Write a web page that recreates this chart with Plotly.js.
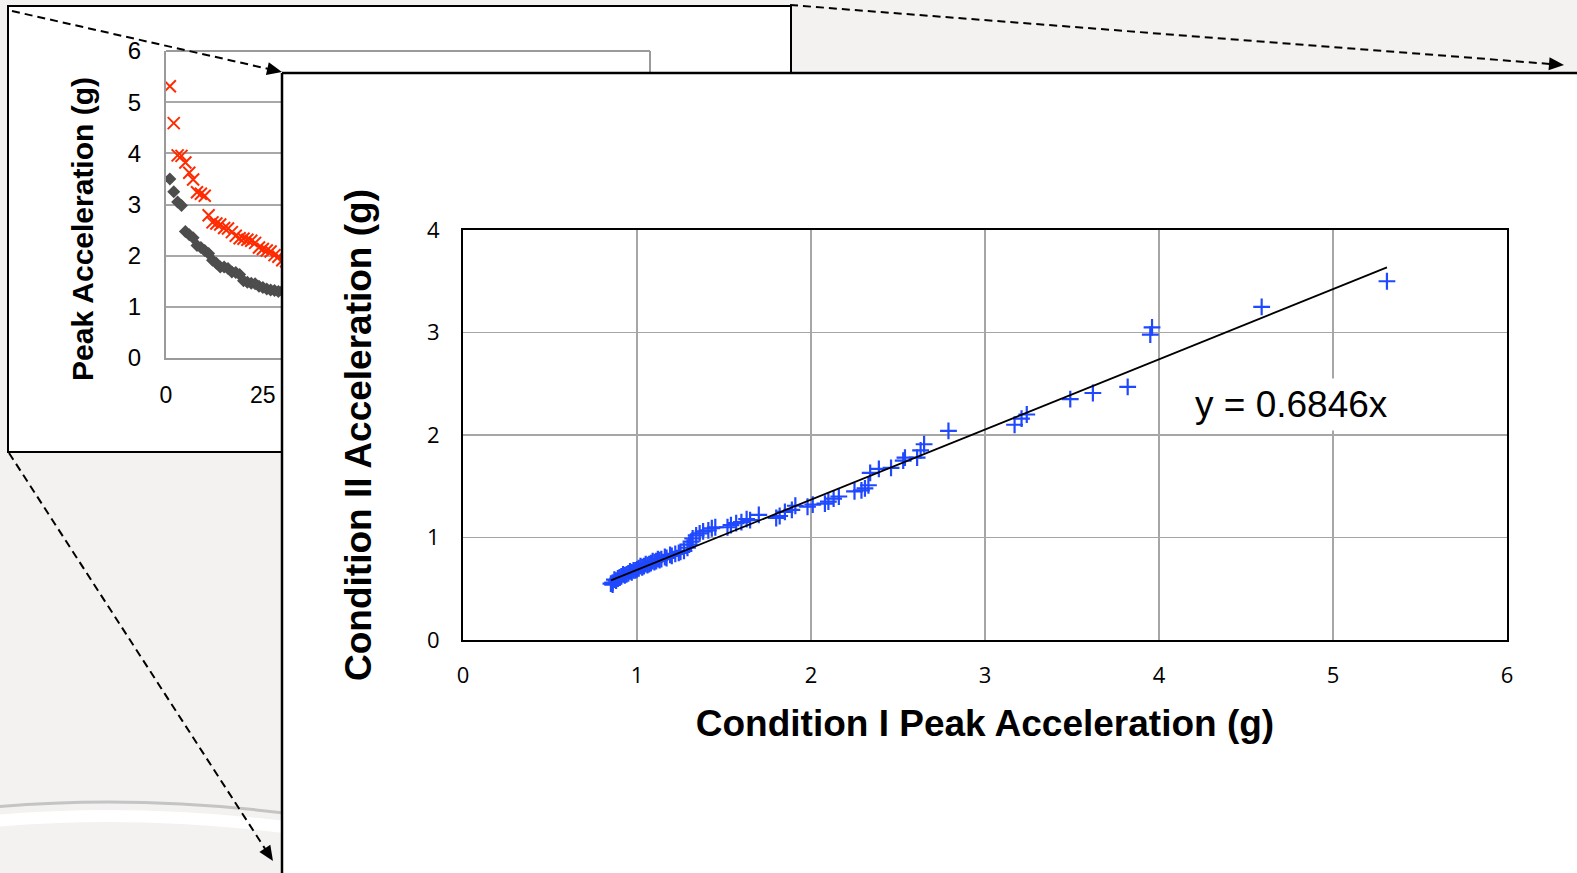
<!DOCTYPE html>
<html>
<head>
<meta charset="utf-8">
<script src="https://cdn.plot.ly/plotly-3.0.1.min.js"></script>
<style>
  html, body { margin: 0; padding: 0; background: #f3f2f0; }
  #chart { width: 1577px; height: 873px; }
</style>
</head>
<body>
<div id="chart"></div>
<script>
// Paired peak accelerations (g) per impact, ranked by Condition I (highest first)
const condI = [
  5.31, 4.59, 3.96, 3.95, 3.82, 3.62, 3.49, 3.24, 3.21, 3.17,
  2.79, 2.65, 2.63, 2.61, 2.54, 2.53, 2.46, 2.39, 2.34, 2.33,
  2.31, 2.29, 2.25, 2.16, 2.13, 2.10, 2.08, 2.01, 1.98, 1.91,
  1.89, 1.85, 1.82, 1.80, 1.70, 1.65, 1.63, 1.60, 1.57, 1.54,
  1.52, 1.45, 1.43, 1.41, 1.38, 1.36, 1.34, 1.32, 1.31, 1.30,
  1.29, 1.27, 1.25, 1.24, 1.22, 1.20, 1.19, 1.17, 1.16, 1.14,
  1.13, 1.12, 1.11, 1.10, 1.09, 1.08, 1.07, 1.06, 1.05, 1.04,
  1.03, 1.02, 1.01, 1.00, 0.99, 0.98, 0.97, 0.96, 0.95, 0.94,
  0.93, 0.92, 0.91, 0.90, 0.89, 0.88, 0.87, 0.86, 0.86, 0.85
];
const condII = [
  3.50, 3.25, 3.05, 2.98, 2.47, 2.41, 2.35, 2.20, 2.16, 2.10,
  2.04, 1.91, 1.85, 1.78, 1.78, 1.75, 1.68, 1.67, 1.63, 1.51,
  1.48, 1.46, 1.45, 1.40, 1.38, 1.35, 1.33, 1.32, 1.30, 1.31,
  1.27, 1.25, 1.21, 1.19, 1.22, 1.17, 1.18, 1.15, 1.14, 1.12,
  1.10, 1.10, 1.09, 1.07, 1.06, 1.04, 1.02, 0.99, 0.96, 0.93,
  0.90, 0.87, 0.86, 0.85, 0.84, 0.82, 0.83, 0.80, 0.81, 0.79,
  0.78, 0.79, 0.77, 0.76, 0.77, 0.75, 0.74, 0.73, 0.74, 0.72,
  0.71, 0.72, 0.70, 0.69, 0.68, 0.68, 0.66, 0.67, 0.65, 0.64,
  0.63, 0.64, 0.62, 0.61, 0.60, 0.58, 0.59, 0.56, 0.54, 0.55
];
// Least-squares fit through the origin: Condition II = slope * Condition I
const slope = 0.6846;
const fitLabel = 'y = 0.6846x';

const insetTickVals = [0, 25, 50, 75, 100, 125];
const insetYTicks = [0, 1, 2, 3, 4, 5, 6];
const mainXTicks = [0, 1, 2, 3, 4, 5, 6];
const mainYTicks = [0, 1, 2, 3, 4];

const insetYTitle = 'Peak Acceleration (g)';
const mainXTitle = 'Condition I Peak Acceleration (g)';
const mainYTitle = 'Condition II Acceleration (g)';

// ---- page geometry (pixels) ----
const W = 1577, H = 873;
const fx = px => px / W;
const fy = py => 1 - py / H;

const rank = condI.map((_, i) => i + 1);
const xMin = Math.min(...condI), xMax = Math.max(...condI);

const sansFont = 'Liberation Sans, Arial, Helvetica, sans-serif';
const tickFont = 'Open Sans, Liberation Sans, sans-serif';

// back card (ranked series) and front card (scatter)
const back = { x0: 8, y0: 6, x1: 791, y1: 452 };
const front = { x0: 282, y0: 73 };
const inset = { left: 166, right: 650, top: 51, bottom: 358, pxPerRank: 3.875 };
const main = { left: 463, right: 1507, top: 230, bottom: 640 };

function rectPx(x0, y0, x1, y1, fill, line) {
  return { type: 'rect', xref: 'paper', yref: 'paper', layer: 'below',
    x0: fx(x0), x1: fx(x1), y0: fy(y1), y1: fy(y0),
    fillcolor: fill, line: line || { width: 0 } };
}
function linePx(x0, y0, x1, y1, color, width, layer, dash) {
  return { type: 'line', xref: 'paper', yref: 'paper', layer: layer || 'below',
    x0: fx(x0), y0: fy(y0), x1: fx(x1), y1: fy(y1),
    line: { color: color, width: width, dash: dash || 'solid' } };
}
function pathPx(d, style, layer) {
  return Object.assign({ type: 'path', xref: 'paper', yref: 'paper', layer: layer || 'below', path: d }, style);
}
function P(x, y) { return fx(x).toFixed(5) + ',' + fy(y).toFixed(5); }

// dashed pointer with a solid triangular head at (x1, y1)
function pointer(x0, y0, x1, y1) {
  const len = 15, half = 6.5;
  const dx = x1 - x0, dy = y1 - y0, d = Math.hypot(dx, dy);
  const ux = dx / d, uy = dy / d;
  const bx = x1 - ux * len, by = y1 - uy * len;
  const head = 'M ' + P(x1, y1) + ' L ' + P(bx - uy * half, by + ux * half) +
               ' L ' + P(bx + uy * half, by - ux * half) + ' Z';
  return [
    linePx(x0, y0, bx + ux * 2, by + uy * 2, '#000', 2, 'above', '8px,5px'),
    pathPx(head, { fillcolor: '#000', line: { width: 0 } }, 'above')
  ];
}

const shapes = [
  // soft arc on the backdrop
  pathPx('M ' + P(-5, 821) + ' Q ' + P(140, 808) + ' ' + P(300, 829),
         { line: { color: '#ffffff', width: 12 } }),
  pathPx('M ' + P(-5, 807) + ' Q ' + P(140, 794) + ' ' + P(300, 815),
         { line: { color: '#c4c4c4', width: 3 } }),
  // back card
  rectPx(back.x0, back.y0, back.x1, back.y1, '#ffffff', { color: '#000', width: 2 }),
  // inset plot frame (top and right edges)
  linePx(inset.left, inset.top, inset.right, inset.top, '#9a9a9a', 2),
  linePx(inset.right, inset.top, inset.right, front.y0, '#9a9a9a', 2),
  // front card
  rectPx(front.x0, front.y0, W + 20, H + 20, '#ffffff'),
  linePx(front.x0, front.y0, W + 5, front.y0, '#000', 2.5, 'above'),
  linePx(front.x0, front.y0, front.x0, H + 5, '#000', 2.5, 'above')
].concat(
  pointer(12, 11, 282, 72),
  pointer(790, 5, 1564, 65),
  pointer(9, 453, 273, 861)
);

const traces = [
  // ranked series on the back card
  { type: 'scatter', mode: 'markers', x: rank, y: condII, xaxis: 'x', yaxis: 'y',
    marker: { symbol: 'diamond', size: 10, color: '#4d4d4d' }, hoverinfo: 'skip' },
  { type: 'scatter', mode: 'markers', x: rank, y: condI, xaxis: 'x', yaxis: 'y',
    marker: { symbol: 'x-thin', size: 12, line: { color: '#ff2a00', width: 2 } }, hoverinfo: 'skip' },
  // Condition II vs Condition I
  { type: 'scatter', mode: 'markers', x: condI, y: condII, xaxis: 'x2', yaxis: 'y2',
    marker: { symbol: 'cross-thin', size: 12, line: { color: '#1f48ff', width: 2.2 } }, hoverinfo: 'skip' },
  { type: 'scatter', mode: 'lines', x: [xMin, xMax], y: [slope * xMin, slope * xMax],
    xaxis: 'x2', yaxis: 'y2', line: { color: '#000', width: 1.8 }, hoverinfo: 'skip' }
];

const layout = {
  width: W, height: H, autosize: false,
  margin: { l: 0, r: 0, t: 0, b: 0 },
  paper_bgcolor: '#f3f2f0',
  plot_bgcolor: 'rgba(0,0,0,0)',
  showlegend: false,
  font: { family: sansFont, color: '#000' },
  xaxis: {
    domain: [fx(inset.left), fx(front.x0)],
    range: [0, (front.x0 - inset.left) / inset.pxPerRank],
    tickvals: insetTickVals, ticks: '', showgrid: false, zeroline: false,
    showline: true, linecolor: '#9a9a9a', linewidth: 2,
    tickfont: { family: sansFont, size: 23, color: '#000' },
    ticklabelstandoff: 15, fixedrange: true
  },
  yaxis: {
    domain: [fy(inset.bottom), fy(inset.top)],
    range: [0, 6], tickvals: insetYTicks, ticks: '',
    showgrid: true, gridcolor: '#a8a8a8', gridwidth: 2, zeroline: false,
    showline: true, linecolor: '#9a9a9a', linewidth: 2,
    tickfont: { family: sansFont, size: 24, color: '#000' },
    ticklabelstandoff: 18,
    fixedrange: true
  },
  xaxis2: {
    anchor: 'y2',
    domain: [fx(main.left), fx(main.right)],
    range: [0, 6], tickvals: mainXTicks, ticks: '',
    showgrid: true, gridcolor: '#a6a6a6', gridwidth: 1.4, zeroline: false,
    showline: true, mirror: true, linecolor: '#000', linewidth: 2,
    tickfont: { family: tickFont, size: 22, color: '#000' },
    ticklabelstandoff: 15,
    title: { text: mainXTitle, font: { family: sansFont, size: 37, weight: 'bold' }, standoff: 22 },
    fixedrange: true
  },
  yaxis2: {
    anchor: 'x2',
    domain: [fy(main.bottom), fy(main.top)],
    range: [0, 4], tickvals: mainYTicks, ticks: '',
    showgrid: true, gridcolor: '#a6a6a6', gridwidth: 1.4, zeroline: false,
    showline: true, mirror: true, linecolor: '#000', linewidth: 2,
    tickfont: { family: tickFont, size: 22, color: '#000' },
    ticklabelstandoff: 17,
    title: { text: mainYTitle, font: { family: sansFont, size: 37, weight: 'bold' }, standoff: 44 },
    fixedrange: true
  },
  shapes: shapes,
  annotations: [
    {
      // axis title of the ranked series
      xref: 'paper', yref: 'paper', x: fx(83), y: fy(229),
      text: insetYTitle, textangle: -90, showarrow: false,
      xanchor: 'center', yanchor: 'middle',
      font: { family: sansFont, size: 30, weight: 'bold', color: '#000' }
    },
    {
      xref: 'x2', yref: 'y2', x: 4.76, y: 2.30,
      text: fitLabel, showarrow: false, xanchor: 'center', yanchor: 'middle',
      font: { family: sansFont, size: 37, color: '#000' },
      bgcolor: '#ffffff', borderpad: 5
    }
  ]
};

Plotly.newPlot('chart', traces, layout, { staticPlot: true, displayModeBar: false });
</script>
</body>
</html>
